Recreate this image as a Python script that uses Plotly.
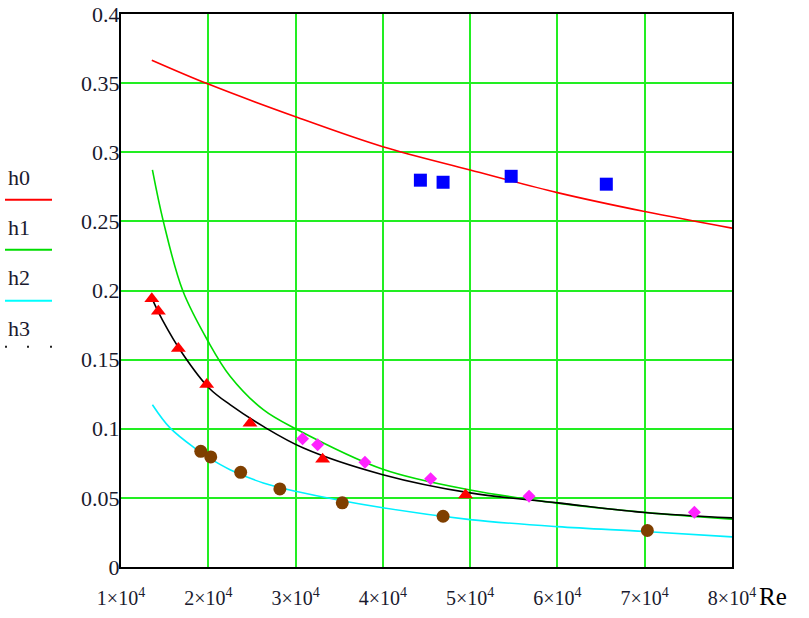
import plotly.graph_objects as go

# ---- data ----
h0_re = [1.353e4, 2.0e4, 3.0e4, 4.0e4, 5.0e4, 6.0e4, 7.0e4, 8.0e4]
h0_val = [0.3666, 0.3493, 0.3257, 0.3040, 0.2872, 0.2708, 0.2571, 0.2451]

h1_re = [1.36e4, 1.485e4, 1.707e4, 2.0e4, 2.25e4, 2.63e4, 3.0e4, 4.0e4, 5.0e4, 6.0e4, 7.0e4, 8.0e4]
h1_val = [0.2872, 0.2500, 0.2000, 0.1630, 0.1380, 0.1138, 0.1000, 0.0707, 0.0557, 0.0462, 0.0395, 0.0346]

h2_re = [1.36e4, 1.562e4, 1.868e4, 2.008e4, 2.249e4, 2.63e4, 3.0e4, 4.0e4, 5.0e4, 6.0e4, 7.0e4, 8.0e4]
h2_val = [0.1174, 0.1006, 0.0849, 0.0789, 0.0704, 0.0608, 0.0548, 0.0428, 0.0343, 0.0292, 0.0257, 0.0218]

h3_re = [1.353e4, 1.474e4, 1.714e4, 2.008e4, 2.249e4, 2.63e4, 3.09e4, 4.0e4, 5.0e4, 6.0e4, 7.0e4, 8.0e4]
h3_val = [0.1945, 0.1788, 0.1535, 0.1295, 0.1174, 0.1017, 0.0861, 0.0668, 0.0536, 0.0464, 0.0394, 0.0355]

sq_re = [4.43e4, 4.69e4, 5.47e4, 6.56e4]
sq_val = [0.2798, 0.2783, 0.2826, 0.2769]

tri_re = [1.353e4, 1.428e4, 1.657e4, 1.982e4, 2.478e4, 3.31e4, 4.947e4]
tri_val = [0.194, 0.185, 0.158, 0.132, 0.104, 0.078, 0.052]

dia_re = [3.08e4, 3.253e4, 3.795e4, 4.547e4, 5.675e4, 7.569e4]
dia_val = [0.0928, 0.0885, 0.0757, 0.0639, 0.0511, 0.0396]

cir_re = [1.914e4, 2.028e4, 2.371e4, 2.82e4, 3.535e4, 4.69e4, 7.03e4]
cir_val = [0.0837, 0.0796, 0.0685, 0.0565, 0.0464, 0.0367, 0.0264]

x_ticks = [1e4, 2e4, 3e4, 4e4, 5e4, 6e4, 7e4, 8e4]
x_labels = [f"{i}×10<sup>4</sup>" for i in range(1, 9)]
y_ticks = [0, 0.05, 0.1, 0.15, 0.2, 0.25, 0.3, 0.35, 0.4]
y_labels = ["0", "0.05", "0.1", "0.15", "0.2", "0.25", "0.3", "0.35", "0.4"]

legend_names = ["h0", "h1", "h2", "h3"]
legend_colors = ["#ff0000", "#00dd00", "#00ffff", "#000000"]

# ---- figure geometry (body margin removed via post_script) ----
W, H = 809, 618
L, R, T, B = 121, 732, 14, 567.5

FONT = "Liberation Serif, Times New Roman, serif"

fig = go.Figure()
line_w = 1.6
fig.add_trace(go.Scatter(x=h0_re, y=h0_val, mode="lines", line=dict(color="#ff0000", width=line_w, shape="spline")))
fig.add_trace(go.Scatter(x=h1_re, y=h1_val, mode="lines", line=dict(color="#00dd00", width=line_w, shape="spline")))
fig.add_trace(go.Scatter(x=h2_re, y=h2_val, mode="lines", line=dict(color="#00f0ff", width=line_w, shape="spline")))
fig.add_trace(go.Scatter(x=h3_re, y=h3_val, mode="lines", line=dict(color="#000000", width=line_w, shape="spline")))

fig.add_trace(go.Scatter(x=sq_re, y=sq_val, mode="markers",
                         marker=dict(symbol="square", size=13, color="#0000ff")))
fig.add_trace(go.Scatter(x=tri_re, y=tri_val, mode="markers",
                         marker=dict(symbol="triangle-up", size=13, color="#ff0000")))
fig.add_trace(go.Scatter(x=dia_re, y=dia_val, mode="markers",
                         marker=dict(symbol="diamond", size=10, color="#ff22ff")))
fig.add_trace(go.Scatter(x=cir_re, y=cir_val, mode="markers",
                         marker=dict(symbol="circle", size=13, color="#7f3f00")))

# screen pixel -> paper coordinates
def px(xs):
    return (xs - L) / (R - L)

def py(ys):
    return (B - ys) / (B - T)

shapes = []
annotations = []
text_y = [178, 228, 278, 329]
line_y = [200, 250, 301, 347]
for i, (name, col) in enumerate(zip(legend_names, legend_colors)):
    annotations.append(dict(x=px(6), y=py(text_y[i]), xref="paper", yref="paper",
                            text=name, showarrow=False, xanchor="left", yanchor="middle",
                            font=dict(family=FONT, size=22, color="#1a1a2e")))
    if i < 3:
        shapes.append(dict(type="line", xref="paper", yref="paper",
                           x0=px(5), x1=px(52), y0=py(line_y[i]), y1=py(line_y[i]),
                           line=dict(color=col, width=2)))
    else:
        for dx in (6, 28, 51):
            shapes.append(dict(type="rect", xref="paper", yref="paper",
                               x0=px(dx - 1), x1=px(dx + 1), y0=py(line_y[i] - 1), y1=py(line_y[i] + 1),
                               fillcolor="#222222", line=dict(width=0)))

annotations.append(dict(x=px(773), y=py(597), xref="paper", yref="paper", text="Re",
                        showarrow=False, xanchor="center", yanchor="middle",
                        font=dict(family=FONT, size=25, color="#000000")))

fig.update_layout(
    width=W, height=H,
    margin=dict(l=L, r=W - R, t=T, b=H - B, autoexpand=False),
    paper_bgcolor="white", plot_bgcolor="white",
    showlegend=False, hovermode=False,
    shapes=shapes, annotations=annotations,
    font=dict(family=FONT, size=20, color="#1a1a2e"),
)
fig.update_xaxes(range=[1e4, 8e4], tickvals=x_ticks, ticktext=x_labels,
                 showgrid=True, gridcolor="#22ee22", gridwidth=2,
                 showline=True, linecolor="#000000", linewidth=2, mirror=True,
                 zeroline=False, ticks="", ticklabelstandoff=12, automargin=False,
                 ticklabeloverflow="allow",
                 tickfont=dict(family=FONT, size=20))
fig.update_yaxes(range=[0, 0.4], tickvals=y_ticks, ticktext=y_labels,
                 showgrid=True, gridcolor="#22ee22", gridwidth=2,
                 showline=True, linecolor="#000000", linewidth=2, mirror=True,
                 zeroline=False, ticks="", ticklabelstandoff=-5, automargin=False,
                 ticklabeloverflow="allow",
                 tickfont=dict(family=FONT, size=22))

fig.write_html("out.html",
               config={"displayModeBar": False, "staticPlot": True},
               post_script="document.body.style.margin='0';document.body.style.overflow='hidden';")
